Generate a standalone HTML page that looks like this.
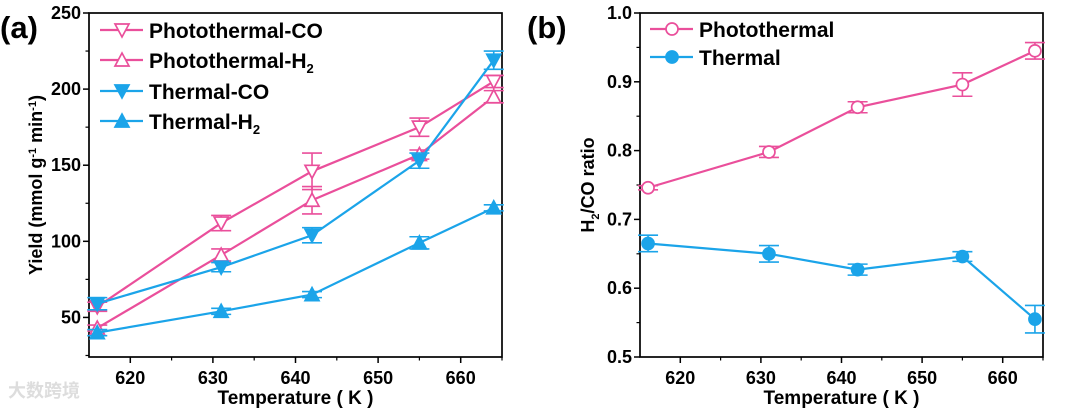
<!DOCTYPE html>
<html><head><meta charset="utf-8"><style>
body{margin:0;background:#fff;}
svg text{font-family:"Liberation Sans","Noto Sans CJK SC",sans-serif;font-weight:bold;}
</style></head><body>
<svg id="s" width="1080" height="409" viewBox="0 0 1080 409" xmlns="http://www.w3.org/2000/svg">
<text x="0" y="38" font-size="31">(a)</text>
<text x="527" y="38" font-size="31">(b)</text>
<text x="8" y="397" font-size="18" fill="#ddd" font-weight="normal">大数跨境</text>
</svg>
<script>
const temps=[616,631,642,655,664];
const ptCO=[57,112,146,175,205], ptCOerr=[3,5,12,6,4];
const ptH2=[43,91,127,157,195], ptH2err=[2,4,9,3,4];
const tCO=[59,83,104,153,219], tCOerr=[4,3,5,5,6];
const tH2=[40,54,65,99,122], tH2err=[2,2,2,4,2];
const ratioPT=[0.746,0.798,0.863,0.896,0.945], ratioPTerr=[0.003,0.008,0.008,0.017,0.012];
const ratioT=[0.665,0.650,0.627,0.646,0.555], ratioTerr=[0.012,0.012,0.008,0.007,0.02];
const xTicks=[620,630,640,650,660];
const yTicksA=[50,100,150,200,250];
const yTicksB=[0.5,0.6,0.7,0.8,0.9,1.0];
const PINK="#ea4f9b", BLUE="#1ba4e9";
const svg=document.getElementById('s');
const NS="http://www.w3.org/2000/svg";
function el(t,a,p){const e=document.createElementNS(NS,t);for(const k in a)e.setAttribute(k,a[k]);(p||svg).appendChild(e);return e;}
function marker(g,type,x,y,c){
  let m;
  if(type==='tdown'||type==='fdown'){m=el('polygon',{points:`${x-7},${y-6} ${x+7},${y-6} ${x},${y+7}`},g);}
  else if(type==='tup'||type==='fup'){m=el('polygon',{points:`${x-7},${y+6} ${x+7},${y+6} ${x},${y-7}`},g);}
  else {m=el('circle',{cx:x,cy:y,r:6},g);}
  const filled=type[0]==='f';
  m.setAttribute('fill',filled?c:'#fff');m.setAttribute('stroke',c);m.setAttribute('stroke-width',1.7);
  return m;
}
function panel(o){
  const X=v=>o.l+(v-615)/(665-615)*(o.r-o.l);
  const Y=v=>o.b-(v-o.ymin)/(o.ymax-o.ymin)*(o.b-o.t);
  const g=el('g',{});
  
  
  const ax=el('rect',{x:o.l,y:o.t,width:o.r-o.l,height:o.b-o.t,fill:'none',stroke:'#000','stroke-width':1.7},g);
  
  
  xTicks.forEach(v=>{
    el('line',{x1:X(v),x2:X(v),y1:o.b,y2:o.b+6,stroke:'#000','stroke-width':1.5},g);
    el('line',{x1:X(v+5),x2:X(v+5),y1:o.b,y2:o.b+3.5,stroke:'#000','stroke-width':1.2},g);
    const t=el('text',{x:X(v),y:o.b+27,'font-size':18,'text-anchor':'middle'},g);t.textContent=v;
    
    
  });
  o.yt.forEach((v,i)=>{
    el('line',{x1:o.l-6,x2:o.l,y1:Y(v),y2:Y(v),stroke:'#000','stroke-width':1.5},g);
    if(i<o.yt.length-1) el('line',{x1:o.l-3.5,x2:o.l,y1:Y(v+o.step/2),y2:Y(v+o.step/2),stroke:'#000','stroke-width':1.2},g);
    const t=el('text',{x:o.l-8,y:Y(v)+6,'font-size':18,'text-anchor':'end'},g);t.textContent=o.fmt(v);
    
    
  });
  if(o.ymin<o.yt[0]) el('line',{x1:o.l-3.5,x2:o.l,y1:Y(o.yt[0]-o.step/2),y2:Y(o.yt[0]-o.step/2),stroke:'#000','stroke-width':1.2},g);
  const xt=el('text',{x:(o.l+o.r)/2,y:404,'font-size':19,'text-anchor':'middle'},g);xt.textContent='Temperature ( K )';
  
  
  const yt=el('text',{x:0,y:0,'font-size':18,'text-anchor':'middle',transform:`translate(${o.ytx},${(o.t+o.b)/2}) rotate(-90)`},g);
  yt.innerHTML=o.ytitle;
  
  
  o.series.forEach(s=>{
    const sg=el('g',{},g);
    
    
    el('polyline',{points:s.v.map((v,i)=>X(temps[i])+','+Y(v)).join(' '),fill:'none',stroke:s.c,'stroke-width':2.2},sg);
    s.v.forEach((v,i)=>{
      const x=X(temps[i]),e=s.e[i];
      el('path',{d:`M${x},${Y(v+e)}V${Y(v-e)}M${x-10},${Y(v+e)}H${x+10}M${x-10},${Y(v-e)}H${x+10}`,stroke:s.c,'stroke-width':1.6,fill:'none'},sg);
      const m=marker(sg,s.m,x,Y(v),s.c);
      
      
    });
  });
  o.legend.forEach((L,i)=>{
    const lg=el('g',{},g);
    
    
    el('line',{x1:L.x,x2:L.x+43,y1:L.y,y2:L.y,stroke:L.c,'stroke-width':2.2},lg);
    marker(lg,L.m,L.x+22,L.y,L.c);
    const t=el('text',{x:L.x+49,y:L.y+8,'font-size':21},lg);t.innerHTML=L.t;
  });
}
panel({name:'panel-a-yield',l:89,r:502,t:13,b:357,ymin:24,ymax:250,yt:yTicksA,step:50,fmt:v=>v,ytx:42,
 ytitle:'Yield (mmol g<tspan dy="-6" font-size="11">-1</tspan><tspan dy="6"> min</tspan><tspan dy="-6" font-size="11">-1</tspan><tspan dy="6">)</tspan>',
 series:[{name:'photothermal-co',v:ptCO,e:ptCOerr,c:PINK,m:'tdown'},{name:'photothermal-h2',v:ptH2,e:ptH2err,c:PINK,m:'tup'},
 {name:'thermal-co',v:tCO,e:tCOerr,c:BLUE,m:'fdown'},{name:'thermal-h2',v:tH2,e:tH2err,c:BLUE,m:'fup'}],
 legend:[{x:100,y:30,c:PINK,m:'tdown',t:'Photothermal-CO'},{x:100,y:60,c:PINK,m:'tup',t:'Photothermal-H<tspan dy="5" font-size="13">2</tspan>'},
 {x:100,y:91,c:BLUE,m:'fdown',t:'Thermal-CO'},{x:100,y:121,c:BLUE,m:'fup',t:'Thermal-H<tspan dy="5" font-size="13">2</tspan>'}]});
panel({name:'panel-b-ratio',l:640,r:1043,t:13,b:357,ymin:0.5,ymax:1.0,yt:yTicksB,step:0.1,fmt:v=>v.toFixed(1),ytx:594,
 ytitle:'H<tspan dy="5" font-size="11">2</tspan><tspan dy="-5">/CO ratio</tspan>',
 series:[{name:'photothermal-ratio',v:ratioPT,e:ratioPTerr,c:PINK,m:'ocirc'},{name:'thermal-ratio',v:ratioT,e:ratioTerr,c:BLUE,m:'fcirc'}],
 legend:[{x:650,y:29,c:PINK,m:'ocirc',t:'Photothermal'},{x:650,y:57,c:BLUE,m:'fcirc',t:'Thermal'}]});
</script>
</body></html>
